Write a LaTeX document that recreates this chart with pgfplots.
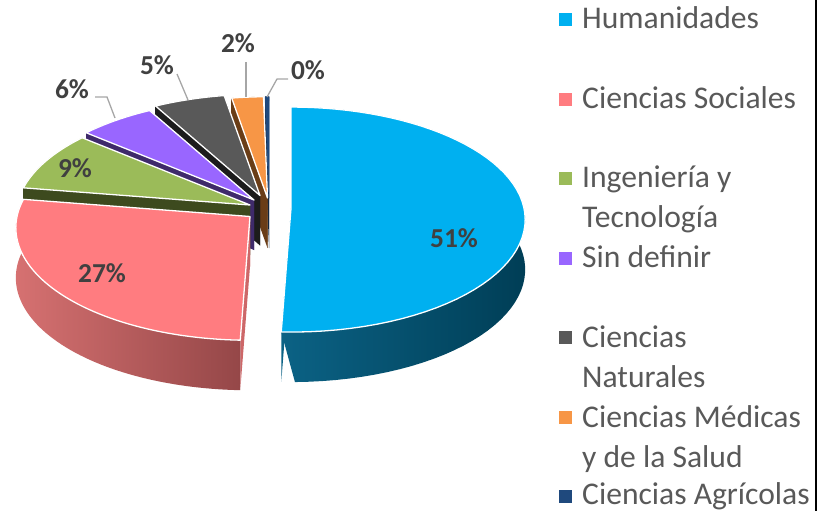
\documentclass[border=0pt]{standalone}
\usepackage{fontspec}
\setmainfont{Carlito}
\usepackage{pgfplots}
\pgfplotsset{compat=1.18}
\definecolor{hTop}{HTML}{00B0F0}
\definecolor{hL}{HTML}{0B6285}
\definecolor{hR}{HTML}{003E56}
\definecolor{cTop}{HTML}{FF7C80}
\definecolor{cRad}{HTML}{CD6768}
\definecolor{cL}{HTML}{D67171}
\definecolor{cR}{HTML}{954748}
\definecolor{iTop}{HTML}{9BBB59}
\definecolor{iSide}{HTML}{3D4A1E}
\definecolor{sTop}{HTML}{9966FF}
\definecolor{sSide}{HTML}{3F2A6B}
\definecolor{nTop}{HTML}{595959}
\definecolor{nSide}{HTML}{1C1C1C}
\definecolor{mTop}{HTML}{F79646}
\definecolor{mSide}{HTML}{6A3D17}
\definecolor{aTop}{HTML}{1F497D}
\definecolor{aSide}{HTML}{10253F}
\definecolor{lblcol}{HTML}{404040}
\definecolor{legcol}{HTML}{595959}
\definecolor{leader}{HTML}{A6A6A6}

% pie geometry (pixels): semi-axes, perspective, depth
\def\pA{233}\def\pB{111.4}\def\pq{0.1}\def\pd{50}

% \slice{cx}{cy}{cumulative start %}{value %}{top}{radial}{band left}{band right}{edge style}
\newcommand{\slice}[9]{%
 \pgfmathsetmacro\tA{#3*3.6}%
 \pgfmathsetmacro\tB{(#3+#4)*3.6}%
 \addplot[fill=#6, draw=none, domain=0:3, samples=4, variable=\t]
  ({#1 + ((\t>0.5)*(\t<2.5))*px(\tA)}, {#2 - ((\t>0.5)*(\t<2.5))*py(\tA) + (\t>1.5)*\pd}) -- cycle;
 \addplot[fill=#6, draw=none, domain=0:3, samples=4, variable=\t]
  ({#1 + ((\t>0.5)*(\t<2.5))*px(\tB)}, {#2 - ((\t>0.5)*(\t<2.5))*py(\tB) + (\t>1.5)*\pd}) -- cycle;
 \addplot[draw=none, left color=#7, right color=#8, domain=0:2, samples=121, variable=\t]
  ({#1 + px(\tA+(\tB-\tA)*((\t<1.001)*\t+(\t>1.001)*(2-\t)))},
   {#2 - py(\tA+(\tB-\tA)*((\t<1.001)*\t+(\t>1.001)*(2-\t))) + (\t>1.001)*\pd}) -- cycle;
 \addplot[fill=#5, #9, line join=round, domain=\tA:\tB, samples=60, variable=\t]
  ({#1 + px(\t)}, {#2 - py(\t)}) -- (axis cs:#1,#2) -- cycle;
}

\begin{document}
\begin{tikzpicture}
\begin{axis}[
  width=828bp, height=511bp, scale only axis,
  xmin=0, xmax=828, ymin=0, ymax=511, y dir=reverse,
  hide axis, clip=false,
  declare function={px(\a)=\pA*sin(\a)/(1+\pq*cos(\a)); py(\a)=\pB*cos(\a)/(1+\pq*cos(\a));},
]
\coordinate (bbSW) at (rel axis cs:0,0);
\coordinate (bbNE) at (rel axis cs:1,1);

% Data (percent): Humanidades 50.6, Ciencias Sociales 26.9, Ingenieria y Tecnologia 8.6,
% Sin definir 5.8, Ciencias Naturales 5.4, Ciencias Medicas y de la Salud 2.4, Ciencias Agricolas 0.3
% back to front
\slice{269}{198}{99.7}{0.3}{aTop}{aSide}{aSide}{aSide}{draw=aTop, line width=0.5pt}
\slice{267.5}{198}{97.3}{2.4}{mTop}{mSide}{mSide}{mSide}{draw=white, line width=1.3pt}
\slice{260}{195.5}{91.9}{5.4}{nTop}{nSide}{nSide}{nSide}{draw=white, line width=1.3pt}
\slice{254}{200}{86.1}{5.8}{sTop}{sSide}{sSide}{sSide}{draw=white, line width=1.3pt}
\slice{250}{205}{77.5}{8.6}{iTop}{iSide}{iSide}{iSide}{draw=white, line width=1.3pt}
\slice{291}{208.3}{0}{50.6}{hTop}{hL}{hL}{hR}{draw=white, line width=1.3pt}
\slice{250}{216.5}{50.6}{26.9}{cTop}{cRad}{cL}{cR}{draw=white, line width=1.3pt}

% leader lines
\addplot[leader, line width=1.3pt] coordinates {(95,97) (107,97) (115,118)};
\addplot[leader, line width=1.3pt] coordinates {(177,74) (188,100)};
\addplot[leader, line width=1.3pt] coordinates {(246,62) (246,97)};
\addplot[leader, line width=1.3pt] coordinates {(288,79) (277,79) (267,97)};

% data labels
\begin{scope}[every node/.style={anchor=base, inner sep=0pt, text=lblcol, font=\fontsize{27.5}{33}\selectfont\bfseries}]
\node at (axis cs:454,247) {51\%};
\node at (axis cs:102,282) {27\%};
\node at (axis cs:75,177) {9\%};
\node at (axis cs:72,98) {6\%};
\node at (axis cs:157,75) {5\%};
\node at (axis cs:238,53) {2\%};
\node at (axis cs:308,80) {0\%};
\end{scope}

% legend
\addplot[only marks, mark=square*, mark size=6bp, hTop] coordinates {(565,19)};
\addplot[only marks, mark=square*, mark size=6bp, cTop] coordinates {(565,99)};
\addplot[only marks, mark=square*, mark size=6bp, iTop] coordinates {(565,178)};
\addplot[only marks, mark=square*, mark size=6bp, sTop] coordinates {(565,258)};
\addplot[only marks, mark=square*, mark size=6bp, nTop] coordinates {(565,337)};
\addplot[only marks, mark=square*, mark size=6bp, mTop] coordinates {(565,417)};
\addplot[only marks, mark=square*, mark size=6bp, aTop] coordinates {(565,496)};
\begin{scope}[every node/.style={anchor=base west, inner sep=0pt, text=legcol, font=\fontsize{31.7}{38}\selectfont}]
\node at (axis cs:582,29) {Humanidades};
\node at (axis cs:582,108) {Ciencias Sociales};
\node at (axis cs:582,187) {Ingeniería y};
\node at (axis cs:582,227) {Tecnología};
\node at (axis cs:582,267) {Sin definir};
\node at (axis cs:582,347) {Ciencias};
\node at (axis cs:582,387) {Naturales};
\node at (axis cs:582,427) {Ciencias Médicas};
\node at (axis cs:582,467) {y de la Salud};
\node at (axis cs:582,504) {Ciencias Agrícolas};
\end{scope}

% right border line
\addplot[black, line width=2bp] coordinates {(816,0) (816,511)};
\end{axis}
\pgfresetboundingbox
\useasboundingbox (bbSW) rectangle (bbNE);
\end{tikzpicture}
\end{document}
